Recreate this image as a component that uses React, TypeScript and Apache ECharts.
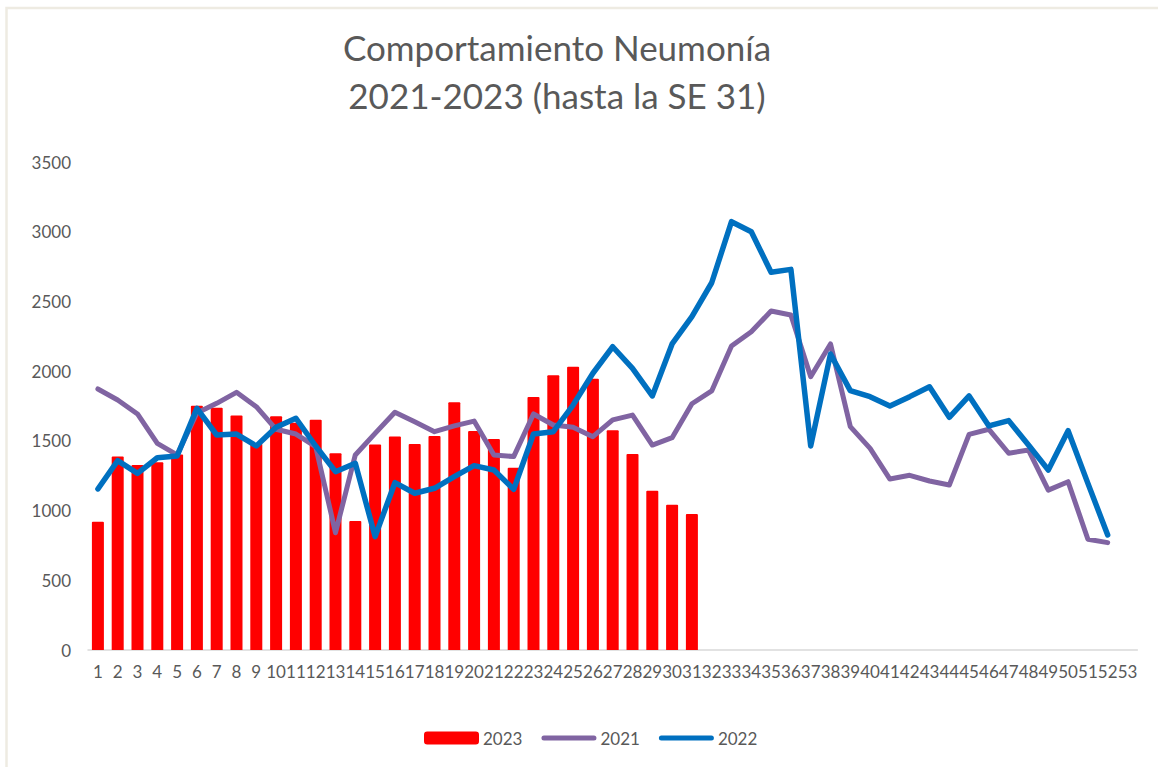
import React, { useEffect, useRef } from "react";
import * as echarts from "echarts";

const weeks = ["1","2","3","4","5","6","7","8","9","10","11","12","13","14","15","16","17","18","19","20","21","22","23","24","25","26","27","28","29","30","31","32","33","34","35","36","37","38","39","40","41","42","43","44","45","46","47","48","49","50","51","52","53"];

const cases2023 = [920,1387,1327,1346,1403,1752,1738,1681,1480,1676,1630,1652,1411,925,1473,1532,1477,1535,1776,1571,1513,1308,1815,1970,2032,1946,1576,1406,1143,1042,975];

const cases2021 = [1872,1793,1693,1482,1399,1700,1769,1848,1745,1583,1549,1458,841,1399,1554,1705,1637,1566,1607,1642,1399,1387,1693,1614,1597,1530,1650,1685,1470,1523,1766,1858,2180,2283,2431,2403,1960,2195,1602,1446,1226,1253,1212,1183,1547,1583,1411,1434,1147,1207,794,770];

const cases2022 = [1155,1358,1267,1379,1391,1733,1542,1549,1463,1597,1662,1463,1279,1339,813,1200,1124,1160,1243,1322,1291,1152,1549,1566,1757,1985,2175,2020,1822,2195,2391,2634,3072,3000,2709,2730,1463,2123,1860,1817,1750,1817,1888,1669,1822,1607,1645,1470,1291,1573,1195,825];

const titleLines = ["Comportamiento Neumonía", "2021-2023 (hasta la SE 31)"];

const TEXT = "#595959";
const FONT = "Lato, 'Open Sans', sans-serif";
const LINE_ICON = "path://M2.5,0H52.5A2.5,2.5,0,0,1,52.5,5H2.5A2.5,2.5,0,0,1,2.5,0Z";

export default function App() {
  const ref = useRef<HTMLDivElement>(null);

  useEffect(() => {
    if (!ref.current) return;
    const chart = echarts.init(ref.current, undefined, { renderer: "svg" });
    chart.setOption({
      animation: false,
      backgroundColor: "#ffffff",
      textStyle: { fontFamily: FONT },
      graphic: [
        {
          type: "rect",
          shape: { x: 6.5, y: 8, width: 1200, height: 800 },
          style: { fill: "none", stroke: "#eeebe2", lineWidth: 2.5 },
          silent: true,
        },
        {
          type: "text",
          x: 557,
          y: 47,
          style: {
            text: titleLines[0],
            fill: TEXT,
            font: `35px ${FONT}`,
            textAlign: "center",
            textVerticalAlign: "middle",
          },
        },
        {
          type: "text",
          x: 557,
          y: 95,
          style: {
            text: titleLines[1],
            fill: TEXT,
            font: `35px ${FONT}`,
            textAlign: "center",
            textVerticalAlign: "middle",
          },
        },
      ],
      legend: {
        left: 424,
        top: 729.5,
        padding: 0,
        itemGap: 19,
        itemWidth: 55,
        itemHeight: 13,
        textStyle: { color: TEXT, fontSize: 17, fontFamily: FONT, padding: [0, 0, 0, -1] },
        data: [
          { name: "2023", icon: "roundRect" },
          { name: "2021", icon: LINE_ICON },
          { name: "2022", icon: LINE_ICON },
        ],
      },
      grid: { left: 88, right: 20.6, top: 162, bottom: 117, containLabel: false },
      xAxis: {
        type: "category",
        data: weeks,
        boundaryGap: true,
        axisLine: { show: true, lineStyle: { color: "#d9d9d9", width: 1.5 } },
        axisTick: { show: false },
        axisLabel: {
          interval: 0,
          color: TEXT,
          fontSize: 17,
          fontFamily: FONT,
          margin: 13,
          hideOverlap: false,
        },
        splitLine: { show: false },
      },
      yAxis: {
        type: "value",
        min: 0,
        max: 3500,
        interval: 500,
        axisLine: { show: false },
        axisTick: { show: false },
        splitLine: { show: false },
        axisLabel: {
          color: TEXT,
          fontSize: 17,
          fontFamily: FONT,
          margin: 17,
          formatter: (v: number) => String(v),
        },
      },
      series: [
        {
          name: "2023",
          type: "bar",
          data: cases2023,
          barWidth: 12,
          itemStyle: { color: "#ff0000", borderRadius: [1, 1, 0, 0] },
        },
        {
          name: "2021",
          type: "line",
          data: cases2021,
          symbol: "none",
          lineStyle: { color: "#8064a2", width: 5, cap: "round", join: "round" },
          itemStyle: { color: "#8064a2" },
        },
        {
          name: "2022",
          type: "line",
          data: cases2022,
          symbol: "none",
          lineStyle: { color: "#0070c0", width: 5.5, cap: "round", join: "round" },
          itemStyle: { color: "#0070c0" },
        },
      ],
    });
    return () => chart.dispose();
  }, []);

  return (
    <div
      ref={ref}
      style={{ position: "fixed", left: 0, top: 0, width: 1158, height: 767 }}
    />
  );
}
